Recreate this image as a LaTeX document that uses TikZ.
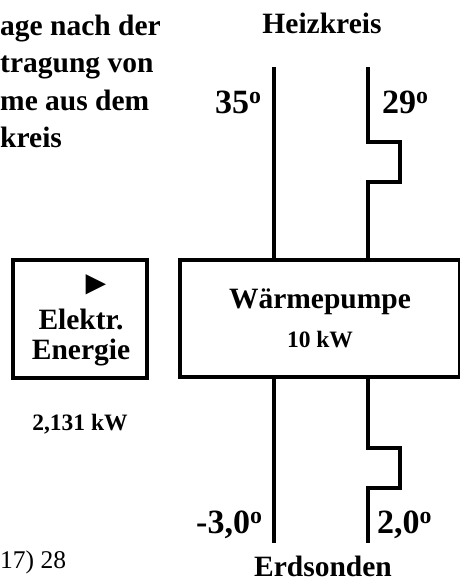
\documentclass[tikz,border=0pt]{standalone}
\usepackage{fontspec}
\setmainfont{Liberation Serif}
\usepackage{tikz}
\usetikzlibrary{positioning,calc}
\tikzset{
  unit/.style={draw=black, line width=4pt, inner sep=0pt},
  pipe/.style={draw=black, line width=3.2pt},
  big/.style={font=\bfseries\fontsize{29.5}{30}\selectfont, inner sep=0pt},
  temp/.style={font=\bfseries\fontsize{34}{34}\selectfont, inner sep=0pt},
  small/.style={font=\bfseries\fontsize{23.5}{26}\selectfont, inner sep=0pt},
  note/.style={font=\fontsize{25.5}{28}\selectfont, inner sep=0pt},
}
\newcommand{\grad}{\textsuperscript{o}}

\begin{document}
\begin{tikzpicture}[x=1pt,y=-1pt]
  \useasboundingbox (0,0) rectangle (459,582);

  % Wärmepumpe und Antrieb
  \node[unit, minimum width=280pt, minimum height=117pt] (wp) at (320,318.5) {};
  \node[unit, minimum width=134pt, minimum height=118pt] (el) at (80,319) {};
  \node[big, anchor=base] (wpname) at (320,308) {Wärmepumpe};
  \node[small, anchor=base] (wpkw) at (320,347) {10 kW};
  \node[font=\fontsize{34}{34}\selectfont, inner sep=0pt] (pfeil) at (96,285) {►};
  \node[big, align=center] (elname) at (81,338) {Elektr.\\Energie};
  \node[small, anchor=base] (elkw) at (80,430) {2,131 kW};

  % Leitungen
  \coordinate (hkL) at (274,67);
  \coordinate (hkR) at (368,67);
  \coordinate (esL) at (274,543);
  \coordinate (esR) at (368,543);
  \draw[pipe] (hkL) -- (hkL |- wp.north);
  \draw[pipe] (hkR) -- ++(0,75) -- ++(32,0) -- ++(0,40) -- ++(-32,0) -- (hkR |- wp.north);
  \draw[pipe] (esL |- wp.south) -- (esL);
  \draw[pipe] (esR |- wp.south) -- ++(0,69) -- ++(32,0) -- ++(0,40) -- ++(-32,0) -- (esR);

  % Beschriftung
  \node[big, anchor=base] (hk) at (322,33) {Heizkreis};
  \node[temp, anchor=base west] (tvl) at (215,113) {35\grad};
  \node[temp, anchor=base west] (trl) at (382,113) {29\grad};
  \node[temp, anchor=base west] (tqv) at (196,533) {-3,0\grad};
  \node[temp, anchor=base west] (tqr) at (377,533) {2,0\grad};
  \node[big, anchor=base] (es) at (323,576) {Erdsonden};

  \node[big, align=left, anchor=north west,
        font=\bfseries\fontsize{29.5}{37.3}\selectfont] (titel) at (0,15)
       {age nach der\\tragung von\\me aus dem\\kreis};
  \node[note, anchor=base west] (seite) at (0,568) {17) 28};
\end{tikzpicture}
\end{document}
